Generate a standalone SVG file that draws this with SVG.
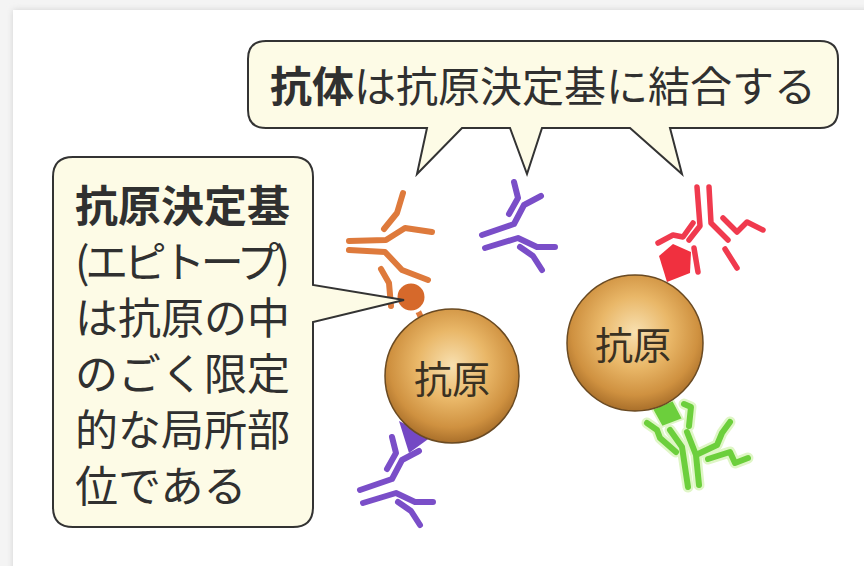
<svg xmlns="http://www.w3.org/2000/svg" width="864" height="566" viewBox="0 0 864 566">
  <style>
    .jp { font-family: "Noto Sans CJK JP", "Noto Sans CJK SC", sans-serif; fill: #303030; }
    .bubble { fill: #fdfbe6; stroke: #333; stroke-width: 2; stroke-linejoin: miter; }
    .chain { fill: none; stroke-width: 6; stroke-linecap: round; stroke-linejoin: round; }
    .purple { stroke: #7a4ec8; }
    .orange { stroke: #de7a3c; }
    .red { stroke: #f03a4e; stroke-width: 5.5; }
    .green { stroke: #6ccf3c; }
    .green-glow { fill: none; stroke: #dff6c6; stroke-width: 11; stroke-linecap: round; stroke-linejoin: round; }
    .ball { stroke: #6a4a22; stroke-width: 1.5; }
    .ball-label { font-size: 38px; fill: #3a3122; }
  </style>
  <defs>
    <filter id="soft" x="-5%" y="-5%" width="110%" height="110%">
      <feGaussianBlur stdDeviation="3"/>
    </filter>
    <radialGradient id="antigenFill" cx="50%" cy="42%" r="58%">
      <stop offset="0" stop-color="#f8e0b0"/>
      <stop offset="0.45" stop-color="#e9b768"/>
      <stop offset="0.8" stop-color="#cf9140"/>
      <stop offset="1" stop-color="#a96f2a"/>
    </radialGradient>
    <!-- Y-shaped antibody: two heavy chains plus two light chains -->
    <g id="abPurple" class="chain purple">
      <polyline points="514,182 518,198 509,214"/>
      <polyline points="482,235 514,224 524,205 541,196"/>
      <polyline points="485,248 518,238 537,247 555,247"/>
      <polyline points="520,247 533,256 542,270"/>
    </g>
  </defs>

  <!-- page -->
  <rect width="864" height="566" fill="#f4f4f4"/>
  <rect x="13" y="10" width="860" height="566" fill="#d2d2d2" filter="url(#soft)"/>
  <rect x="13" y="10" width="851" height="556" fill="#ffffff"/>

  <!-- epitopes and stalks, drawn under the antigen spheres -->
  <g id="connectors">
    <line class="chain orange" x1="418" y1="311" x2="425" y2="326"/>
    <polygon points="399,421 431,437 409,453" fill="#7448c4"/>
    <polygon points="659,256 673,244 691,252 690,273 667,282" fill="#f0303f"/>
    <polygon points="652,409 673,400 683,419 662,427" fill="#6ccf3c" stroke="#dff6c6" stroke-width="2"/>
  </g>

  <!-- antibody bound to the left antigen (upper, orange) -->
  <g id="antibody-orange" class="chain orange">
    <polyline points="403,193 397,213 384,229"/>
    <polyline points="349,241 386,240 405,228 432,232"/>
    <polyline points="349,250 385,252 402,270 428,280"/>
    <polyline points="381,269 389,283 391,306"/>
    <circle cx="411" cy="297" r="15" fill="#d6692b" stroke="#ffffff" stroke-width="3"/>
  </g>

  <!-- free antibody -->
  <g id="antibody-free">
    <use href="#abPurple"/>
  </g>

  <!-- antibody bound to the left antigen (lower, purple) -->
  <g id="antibody-purple-lower">
    <use href="#abPurple" transform="translate(-122 255)"/>
  </g>

  <!-- antibody bound to the right antigen (upper, red) -->
  <g id="antibody-red" class="chain red">
    <polyline points="697,187 700,226 689,240"/>
    <polyline points="709,187 711,223 728,240"/>
    <polyline points="658,243 673,235 683,237 693,223"/>
    <polyline points="694,248 698,272"/>
    <polyline points="723,218 737,232 747,222 763,230"/>
    <polyline points="725,249 737,268"/>
  </g>

  <!-- antibody bound to the right antigen (lower, green) -->
  <g id="antibody-green">
    <g class="green-glow">
      <polyline points="684,404 691,407 689,426"/>
      <polyline points="647,423 657,430 660,438 676,452"/>
      <polyline points="670,430 682,447 688,487"/>
      <polyline points="687,432 696,455 699,485"/>
      <polyline points="698,454 717,445 722,433 730,422"/>
      <polyline points="708,459 730,452 735,463 748,458"/>
    </g>
    <g class="chain green">
      <polyline points="684,404 691,407 689,426"/>
      <polyline points="647,423 657,430 660,438 676,452"/>
      <polyline points="670,430 682,447 688,487"/>
      <polyline points="687,432 696,455 699,485"/>
      <polyline points="698,454 717,445 722,433 730,422"/>
      <polyline points="708,459 730,452 735,463 748,458"/>
    </g>
  </g>

  <!-- antigen spheres -->
  <g id="antigen-left">
    <circle class="ball" cx="452" cy="376" r="67" fill="url(#antigenFill)"/>
    <text class="jp ball-label" x="452" y="393" text-anchor="middle">抗原</text>
  </g>
  <g id="antigen-right">
    <circle class="ball" cx="635" cy="343" r="68" fill="url(#antigenFill)"/>
    <text class="jp ball-label" x="633" y="359" text-anchor="middle">抗原</text>
  </g>

  <!-- callout: antibodies bind epitopes -->
  <g id="callout-top">
    <path class="bubble" d="M266,41 H820 Q838,41 838,59 V110 Q838,128 820,128 H670 L682,174 L630,128 H542 L527,174 L510,128 H462 L417,174 L427,128 H266 Q248,128 248,110 V59 Q248,41 266,41 Z"/>
    <text class="jp" x="543" y="102" font-size="42" text-anchor="middle"><tspan font-weight="bold">抗体</tspan>は抗原決定基に結合する</text>
  </g>

  <!-- callout: what an epitope is -->
  <g id="callout-left">
    <path class="bubble" d="M73,157 H293 Q313,157 313,177 V285 L404,300 L313,322 V507 Q313,527 293,527 H73 Q53,527 53,507 V177 Q53,157 73,157 Z"/>
    <g class="jp" font-size="43">
      <text x="75" y="222" font-weight="bold">抗原決定基</text>
      <text x="75" y="278" textLength="215" lengthAdjust="spacing">(エピトープ)</text>
      <text x="75" y="334">は抗原の中</text>
      <text x="75" y="390">のごく限定</text>
      <text x="75" y="446">的な局所部</text>
      <text x="75" y="502">位である</text>
    </g>
  </g>
</svg>
